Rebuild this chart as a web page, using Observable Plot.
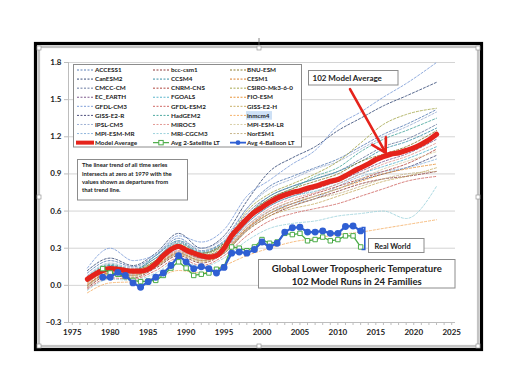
<!DOCTYPE html>
<html><head><meta charset="utf-8">
<script src="https://cdn.jsdelivr.net/npm/d3@7"></script>
<script src="https://cdn.jsdelivr.net/npm/@observablehq/plot@0.6"></script>
<style>
body{margin:0;background:#fff;}
#wrap{position:relative;width:509px;height:378px;overflow:hidden;font-family:Lato,"Open Sans",sans-serif;}
#wrap svg{position:absolute;left:0;top:0;}
</style></head><body><div id="wrap"></div>
<script>
// ---------- data ----------
const modelNames = ["ACCESS1","CanESM2","CMCC-CM","EC_EARTH","GFDL-CM3","GISS-E2-R","IPSL-CM5","MPI-ESM-MR",
  "bcc-csm1","CCSM4","CNRM-CNS","FGOALS","GFDL-ESM2","HadGEM2","MIROC5","MRI-CGCM3",
  "BNU-ESM","CESM1","CSIRO-Mk3-6-0","FIO-ESM","GISS-E2-H","inmcm4","MPI-ESM-LR","NorESM1"];
const modelColors = ["#5b7fb5","#3b4f7a","#6a7aa0","#7e5a8e","#7f9fd8","#4e4f7d","#9fb1d4","#8fb5dc",
  "#8c3b3b","#3a8fa6","#b0463f","#5db6cc","#d06a66","#4fa9a0","#e39a95","#9dd2dc",
  "#8a7a2e","#d97f2b","#a6a84f","#e8953c","#c9b06a","#f5b26b","#d9cfa8","#c7b58a"];
const modelYears = [1977,1980,1983,1986,1989,1992,1995,1998,2001,2004,2007,2010,2013,2016,2019,2023];
const vACCESS1   = [0.10,0.20,0.15,0.24,0.38,0.28,0.36,0.62,0.80,0.88,0.95,1.02,1.12,1.22,1.30,1.42];
const vCanESM2   = [0.12,0.22,0.16,0.26,0.42,0.30,0.40,0.68,0.92,1.03,1.12,1.25,1.35,1.45,1.53,1.64];
const vCMCC      = [0.05,0.16,0.12,0.22,0.35,0.26,0.34,0.58,0.72,0.80,0.86,0.92,1.02,1.12,1.18,1.30];
const vEC        = [0.02,0.12,0.10,0.18,0.30,0.22,0.30,0.50,0.64,0.72,0.78,0.84,0.92,1.00,1.06,1.18];
const vGFDLCM3   = [0.14,0.30,0.20,0.25,0.40,0.35,0.45,0.72,0.85,0.98,1.09,1.29,1.40,1.52,1.63,1.80];
const vGISSR     = [0.00,0.10,0.08,0.15,0.26,0.20,0.26,0.45,0.58,0.66,0.72,0.78,0.85,0.90,0.95,1.05];
const vIPSL      = [0.08,0.18,0.14,0.22,0.36,0.30,0.38,0.62,0.78,0.86,0.94,1.00,1.10,1.20,1.28,1.40];
const vMPIMR     = [0.03,0.12,0.10,0.18,0.28,0.22,0.28,0.48,0.60,0.66,0.70,0.80,0.88,0.92,0.95,1.02];
const vBCC       = [-0.02,0.08,0.06,0.14,0.24,0.18,0.26,0.44,0.56,0.64,0.70,0.76,0.82,0.86,0.88,0.92];
const vCCSM4     = [0.06,0.16,0.12,0.24,0.36,0.27,0.35,0.56,0.72,0.80,0.86,0.92,1.00,1.10,1.16,1.27];
const vCNRM      = [0.00,0.10,0.09,0.16,0.27,0.22,0.28,0.46,0.60,0.68,0.74,0.80,0.86,0.92,0.98,1.10];
const vFGOALS    = [0.04,0.14,0.10,0.20,0.30,0.24,0.30,0.50,0.64,0.72,0.76,0.82,0.90,0.96,1.02,1.12];
const vGFDLESM2  = [-0.03,0.06,0.05,0.12,0.22,0.16,0.24,0.40,0.52,0.58,0.62,0.66,0.72,0.78,0.84,0.88];
const vHadGEM2   = [0.07,0.17,0.13,0.22,0.34,0.26,0.32,0.55,0.70,0.78,0.88,0.95,1.08,1.18,1.25,1.35];
const vMIROC5    = [0.02,0.11,0.09,0.17,0.28,0.21,0.29,0.48,0.62,0.70,0.75,0.82,0.90,0.98,1.04,1.15];
const vMRI       = [-0.04,0.05,0.04,0.10,0.20,0.15,0.22,0.36,0.46,0.50,0.52,0.56,0.58,0.60,0.54,0.80];
const vBNU       = [0.05,0.15,0.12,0.20,0.32,0.26,0.34,0.56,0.70,0.78,0.84,0.90,1.00,1.06,1.12,1.25];
const vCESM1     = [0.03,0.12,0.10,0.19,0.30,0.24,0.31,0.52,0.66,0.74,0.80,0.86,0.96,1.04,1.10,1.20];
const vCSIRO     = [0.04,0.13,0.11,0.20,0.33,0.25,0.33,0.60,0.74,0.82,0.90,1.00,1.15,1.30,1.38,1.43];
const vFIO       = [0.01,0.10,0.08,0.16,0.26,0.20,0.27,0.46,0.58,0.66,0.72,0.78,0.84,0.90,0.94,0.98];
const vGISSH     = [-0.01,0.09,0.07,0.15,0.25,0.19,0.26,0.44,0.56,0.62,0.66,0.72,0.78,0.84,0.88,0.95];
const vINM       = [-0.06,0.02,0.03,0.06,0.12,0.10,0.16,0.24,0.30,0.35,0.38,0.41,0.43,0.46,0.49,0.53];
const vMPILR     = [0.02,0.11,0.09,0.17,0.27,0.21,0.28,0.47,0.60,0.68,0.72,0.78,0.86,0.94,1.00,1.08];
const vNorESM1   = [0.00,0.09,0.08,0.15,0.25,0.20,0.27,0.45,0.58,0.64,0.70,0.74,0.80,0.86,0.90,0.92];
const modelValues = [vACCESS1,vCanESM2,vCMCC,vEC,vGFDLCM3,vGISSR,vIPSL,vMPIMR,
  vBCC,vCCSM4,vCNRM,vFGOALS,vGFDLESM2,vHadGEM2,vMIROC5,vMRI,
  vBNU,vCESM1,vCSIRO,vFIO,vGISSH,vINM,vMPILR,vNorESM1];

const avgYears = [1977,1978,1979,1980,1981,1982,1983,1984,1985,1986,1987,1988,1989,1990,1991,1992,1993,1994,1995,1996,1997,1998,1999,2000,
  2001,2002,2003,2004,2005,2006,2007,2008,2009,2010,2011,2012,2013,2014,2015,2016,2017,2018,2019,2020,2021,2022,2023];
const avgValues = [0.05,0.09,0.12,0.135,0.13,0.12,0.115,0.115,0.13,0.175,0.24,0.29,0.315,0.285,0.26,0.24,0.228,0.24,0.30,0.40,0.47,0.535,0.59,0.63,
  0.67,0.705,0.73,0.75,0.765,0.785,0.80,0.82,0.84,0.855,0.885,0.92,0.95,0.98,1.015,1.04,1.06,1.07,1.09,1.11,1.14,1.175,1.22];

const obsYears = [1979,1980,1981,1982,1983,1984,1985,1986,1987,1988,1989,1990,1991,1992,1993,1994,1995,1996,
  1997,1998,1999,2000,2001,2002,2003,2004,2005,2006,2007,2008,2009,2010,2011,2012,2013];
const balloonValues = [0.065,0.066,0.105,0.08,0.02,-0.015,0.03,0.065,0.10,0.16,0.24,0.19,0.135,0.15,0.135,0.10,0.145,0.26,
  0.27,0.26,0.29,0.35,0.31,0.34,0.43,0.465,0.47,0.43,0.43,0.44,0.42,0.42,0.475,0.48,0.44];
const satelliteValues = [0.135,0.10,0.09,0.07,0.04,0.03,0.035,0.04,0.08,0.14,0.19,0.14,0.08,0.09,0.10,0.13,0.15,0.31,
  0.30,0.28,0.31,0.37,0.34,0.35,0.42,0.41,0.42,0.36,0.37,0.39,0.36,0.37,0.40,0.40,0.31];

const yTicks = [-0.3,0.0,0.3,0.6,0.9,1.2,1.5,1.8];
const xTicks = [1975,1980,1985,1990,1995,2000,2005,2010,2015,2020,2025];

// ---------- tables ----------
const modelData = modelNames.flatMap((m,i)=>modelYears.map((y,j)=>({model:m, year:y, value:modelValues[i][j]})));
const avgData = avgYears.map((y,i)=>({year:y, value:avgValues[i]}));
const balloonData = obsYears.map((y,i)=>({year:y, value:balloonValues[i]}));
const satData = obsYears.map((y,i)=>({year:y, value:satelliteValues[i]}));
const avg2016 = avgData.find(d=>d.year===2016);

const RED="#e5231b", BLUE="#2f5fd3", GREEN="#4aab46";

const plot = Plot.plot({
  width:509, height:378,
  marginLeft:68, marginRight:54, marginTop:62, marginBottom:56,
  style:{background:"transparent", fontFamily:"Lato, 'Open Sans', sans-serif", fontWeight:700, fontSize:"8px", color:"#222", overflow:"visible"},
  x:{domain:[1974.5,2025.5]},
  y:{domain:[-0.3,1.8]},
  color:{domain:modelNames, range:modelColors},
  marks:[
    Plot.gridY(yTicks.slice(1), {stroke:"#d4d4d4", strokeOpacity:1, strokeWidth:1}),
    Plot.ruleY([-0.3], {stroke:"#bdbdbd"}),
    Plot.ruleX([1974.5], {stroke:"#bdbdbd"}),
    Plot.axisY({ticks:yTicks, tickFormat:d3.format(".1f"), tickSize:4, tickPadding:3, stroke:"#bdbdbd", label:null, fill:"#222"}),
    Plot.axisX({ticks:d3.range(1975,2026), tickFormat:()=>"", tickSize:3, stroke:"#bdbdbd", label:null}),
    Plot.axisX({ticks:xTicks, tickFormat:d=>String(d), tickSize:0, tickPadding:7, label:null, fill:"#222"}),
    Plot.line(modelData, {x:"year", y:"value", z:"model", stroke:"model", strokeWidth:1, strokeOpacity:0.85, strokeDasharray:"2.2,1.8", curve:"monotone-x"}),
    Plot.line(avgData, {x:"year", y:"value", stroke:RED, strokeWidth:5.2, curve:"monotone-x"}),
    Plot.line(satData, {x:"year", y:"value", stroke:GREEN, strokeWidth:1.3}),
    Plot.dot(satData, {x:"year", y:"value", symbol:"square", r:2.5, fill:"white", stroke:GREEN, strokeWidth:1}),
    Plot.line(balloonData, {x:"year", y:"value", stroke:BLUE, strokeWidth:2.2}),
    Plot.dot(balloonData, {x:"year", y:"value", r:2.7, fill:BLUE, stroke:BLUE}),
    Plot.arrow([{x1:2011.6, y1:1.585, x2:avg2016.year+0.3, y2:avg2016.value+0.03}], {x1:"x1", y1:"y1", x2:"x2", y2:"y2", stroke:RED, strokeWidth:2.6, headLength:9})
  ]
});
const wrap = document.getElementById("wrap");
wrap.appendChild(plot);

// ---------- overlay: frame, legend, annotation boxes ----------
const ov = d3.select(wrap).append("svg").attr("width",509).attr("height",378)
  .style("font-family","Lato, 'Open Sans', sans-serif").style("font-weight",700).style("pointer-events","none");

// picture frame
ov.append("rect").attr("x",35.5).attr("y",43.5).attr("width",446).attr("height",306).attr("fill","none").attr("stroke","#000").attr("stroke-width",3.2);
ov.append("rect").attr("x",38.8).attr("y",46.8).attr("width",439.4).attr("height",299.4).attr("fill","none").attr("stroke","#c4c4c4").attr("stroke-width",2.6);
ov.append("line").attr("x1",259).attr("x2",259).attr("y1",38).attr("y2",45).attr("stroke","#666").attr("stroke-width",0.8);
[[39,48],[259,48],[478,48],[39,197],[478,197],[39,346],[259,346],[478,346]].forEach(([x,y])=>{
  ov.append("rect").attr("x",x-2).attr("y",y-2).attr("width",4).attr("height",4).attr("fill","#fff").attr("stroke","#999").attr("stroke-width",0.7);
});

// legend
ov.append("rect").attr("x",73.5).attr("y",64.5).attr("width",228).attr("height",82.5).attr("fill","#fff").attr("stroke","#8c8c8c").attr("stroke-width",1);
const colSample=[77,153,230], colText=[95,171,247];
const rowY = r => 70 + r*9.08;
modelNames.forEach((m,i)=>{
  const c=Math.floor(i/8), r=i%8, y=rowY(r);
  ov.append("line").attr("x1",colSample[c]).attr("x2",colSample[c]+16).attr("y1",y).attr("y2",y)
    .attr("stroke",modelColors[i]).attr("stroke-width",1).attr("stroke-dasharray","2,1.5");
  if(m==="inmcm4") ov.append("rect").attr("x",colText[c]-1).attr("y",y-4.3).attr("width",26).attr("height",8.6).attr("fill","#cde0f5");
  ov.append("text").attr("x",colText[c]).attr("y",y+2.2).attr("font-size",6.3).attr("fill","#222").text(m);
});
const yLast=rowY(8);
ov.append("line").attr("x1",76).attr("x2",94).attr("y1",yLast).attr("y2",yLast).attr("stroke",RED).attr("stroke-width",4);
ov.append("text").attr("x",95).attr("y",yLast+2.2).attr("font-size",6.3).attr("fill","#222").text("Model Average");
ov.append("line").attr("x1",153).attr("x2",169).attr("y1",yLast).attr("y2",yLast).attr("stroke",GREEN).attr("stroke-width",1.2);
ov.append("rect").attr("x",158.8).attr("y",yLast-2.2).attr("width",4.4).attr("height",4.4).attr("fill","#fff").attr("stroke",GREEN).attr("stroke-width",1);
ov.append("text").attr("x",171).attr("y",yLast+2.2).attr("font-size",6.3).attr("fill","#222").text("Avg 2-Satellite LT");
ov.append("line").attr("x1",230).attr("x2",246).attr("y1",yLast).attr("y2",yLast).attr("stroke",BLUE).attr("stroke-width",1.8);
ov.append("circle").attr("cx",238).attr("cy",yLast).attr("r",2.4).attr("fill",BLUE);
ov.append("text").attr("x",247).attr("y",yLast+2.2).attr("font-size",6.3).attr("fill","#222").text("Avg 4-Balloon LT");

// note box
ov.append("rect").attr("x",77.5).attr("y",159.5).attr("width",110).attr("height",40.5).attr("fill","#fff").attr("stroke","#8c8c8c");
["The linear trend of all time series","intersects at zero at 1979 with the","values shown as departures from","that trend line."].forEach((t,i)=>{
  ov.append("text").attr("x",82).attr("y",167.3+i*8.3).attr("font-size",5.9).attr("fill","#222").text(t);
});

// 102 Model Average box
ov.append("rect").attr("x",308.5).attr("y",70.5).attr("width",89.5).attr("height",14.5).attr("fill","#fff").attr("stroke","#8c8c8c");
ov.append("text").attr("x",312.5).attr("y",81.2).attr("font-size",8).attr("fill","#222").text("102 Model Average");

// Real World bracket and box
ov.append("path").attr("d","M361.5,227.5 H364.8 V249.5 H361.5").attr("fill","none").attr("stroke",BLUE).attr("stroke-width",1.6);
ov.append("rect").attr("x",368.5).attr("y",238.5).attr("width",55.5).attr("height",14).attr("fill","#fff").attr("stroke","#8c8c8c");
ov.append("text").attr("x",374.5).attr("y",249.3).attr("font-size",7.4).attr("fill","#222").text("Real World");

// Title box
ov.append("rect").attr("x",258.5).attr("y",259.5).attr("width",196.5).attr("height",28.5).attr("fill","#fff").attr("stroke","#8c8c8c");
ov.append("text").attr("x",356.8).attr("y",271.5).attr("text-anchor","middle").attr("font-size",9.6).attr("fill","#222").text("Global Lower Tropospheric Temperature");
ov.append("text").attr("x",356.8).attr("y",284.8).attr("text-anchor","middle").attr("font-size",9.6).attr("fill","#222").text("102 Model Runs in 24 Families");
</script></body></html>
